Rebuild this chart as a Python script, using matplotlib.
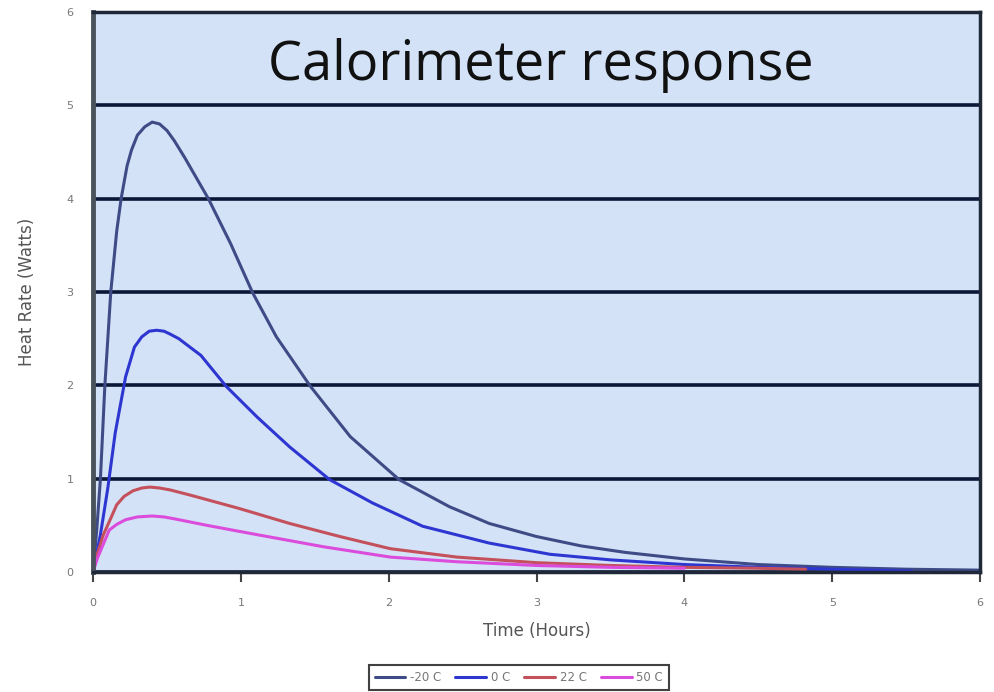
import numpy as np
import matplotlib
matplotlib.use("Agg")
from matplotlib import pyplot as plt

# values
labels = ['-20 C', '0 C', '22 C', '50 C']
colors = ['#3f4b86', '#2e36d2', '#c4505c', '#dc4cdc']

t_m20 = [0, 0.025, 0.05, 0.08, 0.12, 0.16, 0.19, 0.23, 0.26, 0.30, 0.35, 0.40, 0.45,
         0.50, 0.55, 0.62, 0.70, 0.78, 0.93, 1.08, 1.24, 1.47, 1.74, 2.07, 2.41, 2.68,
         3.0, 3.3, 3.6, 4.0, 4.5, 5.0, 5.5, 6.0]
v_m20 = [0, 0.45, 1.0, 2.0, 3.0, 3.65, 4.0, 4.35, 4.52, 4.68, 4.77, 4.82, 4.80,
         4.73, 4.62, 4.44, 4.22, 4.00, 3.52, 2.99, 2.52, 1.99, 1.45, 0.99, 0.70, 0.52,
         0.38, 0.28, 0.21, 0.14, 0.08, 0.05, 0.03, 0.02]

t_0 = [0, 0.05, 0.1, 0.15, 0.22, 0.28, 0.33, 0.38, 0.43, 0.48, 0.52, 0.58, 0.655,
       0.73, 0.90, 1.11, 1.33, 1.60, 1.89, 2.23, 2.68, 3.09, 3.5, 4.0, 4.5, 5.0, 5.54]
v_0 = [0, 0.4, 0.9, 1.49, 2.09, 2.41, 2.52, 2.58, 2.59, 2.58, 2.55, 2.50, 2.41,
       2.32, 1.99, 1.66, 1.34, 0.99, 0.74, 0.49, 0.31, 0.19, 0.13, 0.08, 0.05, 0.03, 0.01]

t_22 = [0, 0.03, 0.07, 0.11, 0.16, 0.21, 0.27, 0.33, 0.385, 0.45, 0.52, 0.655, 0.99,
        1.33, 1.67, 2.01, 2.46, 3.0, 3.5, 4.0, 4.5, 4.82]
v_22 = [0, 0.2, 0.4, 0.54, 0.72, 0.81, 0.87, 0.90, 0.91, 0.90, 0.88, 0.825, 0.68,
        0.52, 0.38, 0.25, 0.16, 0.10, 0.07, 0.05, 0.04, 0.03]

t_50 = [0, 0.03, 0.07, 0.11, 0.16, 0.22, 0.3, 0.4, 0.48, 0.55, 0.77, 1.11, 1.56,
        2.01, 2.46, 3.0, 3.5, 4.0]
v_50 = [0, 0.15, 0.3, 0.45, 0.51, 0.56, 0.59, 0.60, 0.59, 0.57, 0.50, 0.40, 0.27,
        0.16, 0.11, 0.07, 0.05, 0.04]

series = [(t_m20, v_m20), (t_0, v_0), (t_22, v_22), (t_50, v_50)]

fig = plt.figure(figsize=(9.94, 6.92), dpi=100)
ax = fig.add_axes([0.0936, 0.1734, 0.8924, 0.8093])
ax.set_facecolor('#d3e2f6')

for (t, v), lab, c in zip(series, labels, colors):
    ax.plot(t, v, color=c, lw=2.2, label=lab, solid_capstyle='round',
            solid_joinstyle='round')

ax.set_xlim(0, 6)
ax.set_ylim(0, 6)
ax.set_xticks(range(7))
ax.set_yticks(range(7))
ax.yaxis.grid(True, color='#0c1636', lw=2.6)
ax.set_axisbelow(True)
for s in ax.spines.values():
    s.set_color('#1e2838')
    s.set_linewidth(2.5)
ax.spines['left'].set_color('#4a525c')
ax.spines['left'].set_linewidth(3.5)

ax.tick_params(axis='x', length=7, width=1.5, color='#444444', labelsize=8,
               labelcolor='#777777', pad=12)
ax.tick_params(axis='y', length=0, labelsize=8, labelcolor='#777777', pad=14)

ax.set_xlabel('Time (Hours)', fontsize=12, color='#555555', labelpad=10)
ax.set_ylabel('Heat Rate (Watts)', fontsize=12, color='#555555', labelpad=22)

ax.text(0.505, 0.905, 'Calorimeter response', transform=ax.transAxes,
        ha='center', va='center', fontsize=39, family='Open Sans', color='#111111')

leg = fig.legend(loc='lower center', bbox_to_anchor=(0.522, -0.006), ncol=4,
                 fontsize=8.5, frameon=True, fancybox=False, handlelength=2.6,
                 columnspacing=1.2, handletextpad=0.4, borderpad=0.5)
leg.get_frame().set_edgecolor('#111111')
leg.get_frame().set_linewidth(1.5)
for txt in leg.get_texts():
    txt.set_color('#777777')

fig.savefig('out.png', dpi=100)
